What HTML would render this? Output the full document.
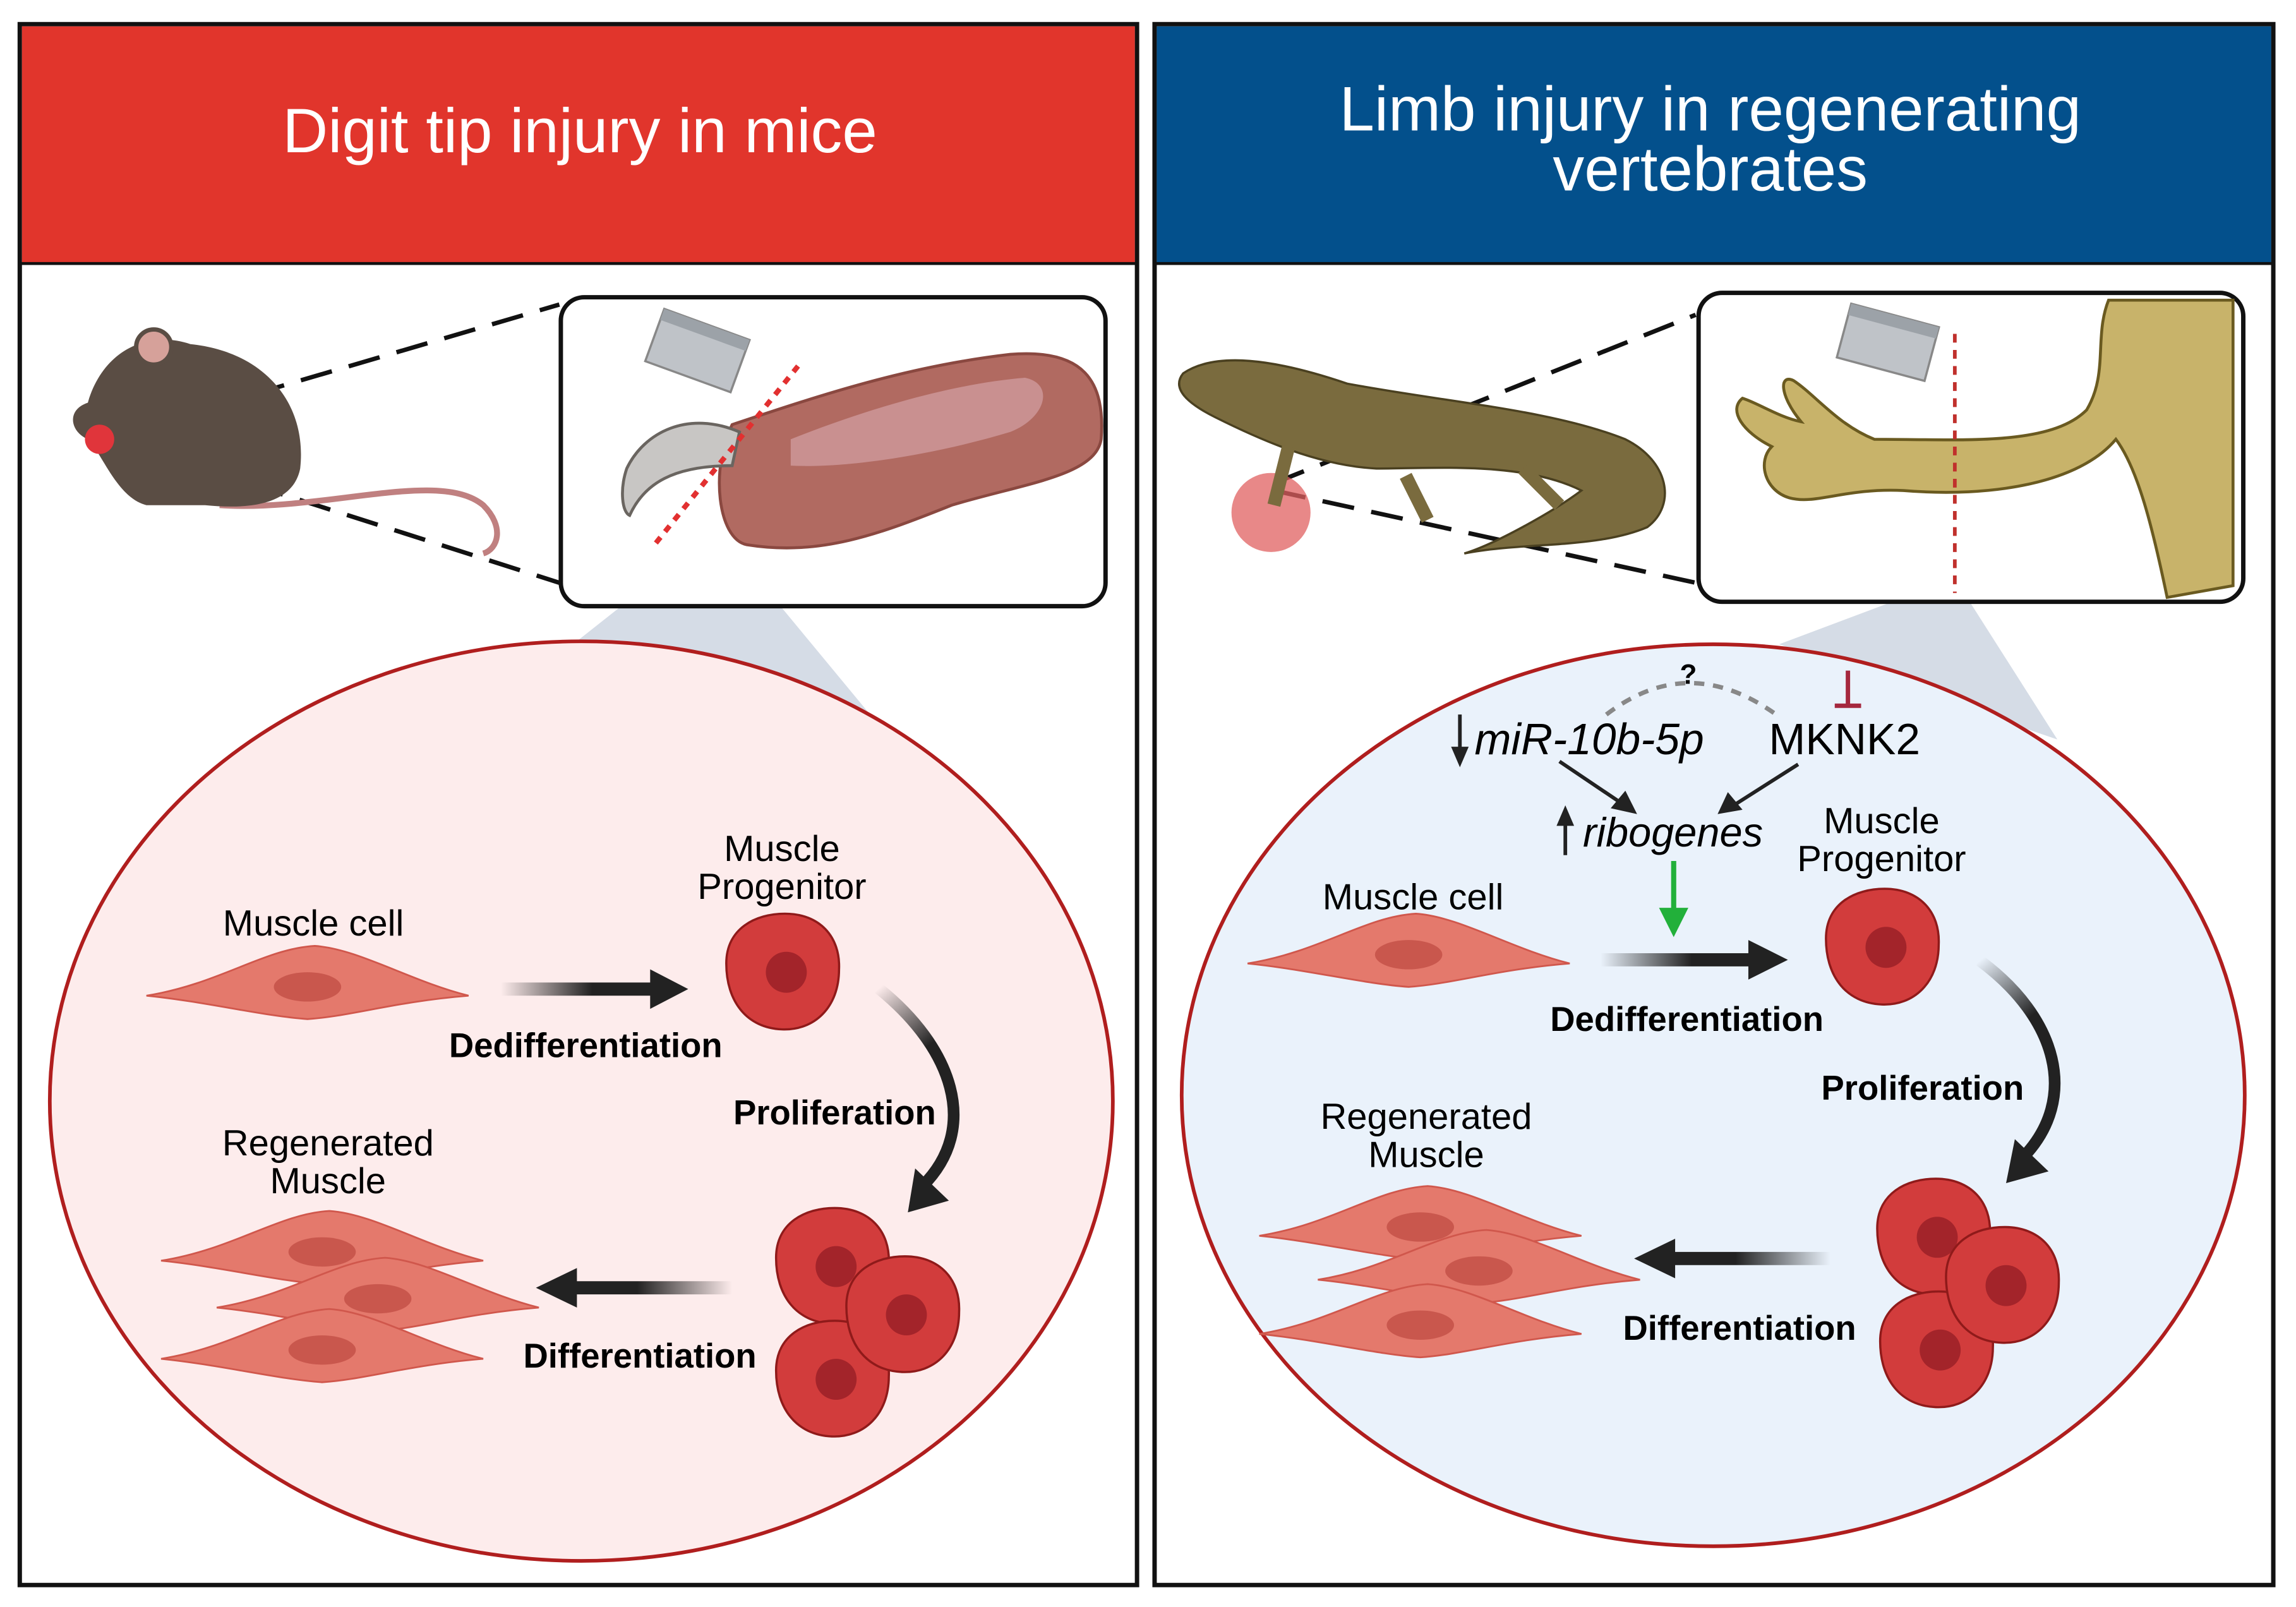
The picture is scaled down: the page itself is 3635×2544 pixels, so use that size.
<!DOCTYPE html>
<html><head><meta charset="utf-8"><style>
html,body{margin:0;padding:0;background:#fff}
svg{display:block}
text{font-family:"Liberation Sans",Arial,sans-serif}
</style></head><body>
<svg width="3635" height="2544" viewBox="0 0 1568 1097.5" preserveAspectRatio="none" xmlns="http://www.w3.org/2000/svg">
<defs>
<linearGradient id="gR" x1="0" x2="1"><stop offset="0" stop-color="#222" stop-opacity="0"/><stop offset="0.6" stop-color="#222"/></linearGradient>
<linearGradient id="gL" x1="1" x2="0"><stop offset="0" stop-color="#222" stop-opacity="0"/><stop offset="0.6" stop-color="#222"/></linearGradient>
<linearGradient id="gC" x1="0" y1="0" x2="0.3" y2="1"><stop offset="0" stop-color="#222" stop-opacity="0"/><stop offset="0.45" stop-color="#222"/></linearGradient>
<g id="sp"><path d="M-110,8 C-60,0 -30,-24 5,-26 C35,-24 70,-2 110,8 C60,12 30,22 0,24 C-30,22 -70,12 -110,8Z" fill="#e4796c" stroke="#d0574c" stroke-width="1.2"/><ellipse cx="0" cy="2" rx="23" ry="10" fill="#c9574d"/></g>
<g id="pc"><path d="M-38,-6 C-38,-30 -18,-40 2,-40 C26,-40 40,-24 39,-2 C39,24 22,40 0,39 C-24,38 -38,20 -38,-6Z" fill="#d23c3c" stroke="#8f1a1a" stroke-width="1.5"/><circle cx="3" cy="0" r="14" fill="#a3242a"/></g>
</defs>
<rect width="1568" height="1098" fill="#fff"/>
<rect x="13.5" y="16.5" width="763" height="1066" fill="#fff" stroke="#111" stroke-width="3"/>
<rect x="15" y="18" width="760" height="162" fill="#e1352c"/>
<line x1="14" y1="180" x2="776" y2="180" stroke="#111" stroke-width="2"/>
<text x="396" y="104" font-size="43" fill="#fff" text-anchor="middle">Digit tip injury in mice</text>
<rect x="788.5" y="16.5" width="764" height="1066" fill="#fff" stroke="#111" stroke-width="3"/>
<rect x="790" y="18" width="761" height="162" fill="#03508c"/>
<line x1="789" y1="180" x2="1552" y2="180" stroke="#111" stroke-width="2"/>
<text x="1168" y="89" font-size="43" fill="#fff" text-anchor="middle">Limb injury in regenerating</text>
<text x="1168" y="130" font-size="43" fill="#fff" text-anchor="middle">vertebrates</text>

<polygon points="490,362 385,445 600,495" fill="#d5dce6"/>
<ellipse cx="397" cy="752" rx="363" ry="314" fill="#fdecec" stroke="#b01e1e" stroke-width="2.5"/>
<line x1="75" y1="298" x2="382" y2="208" stroke="#111" stroke-width="3" stroke-dasharray="22,12"/>
<line x1="75" y1="300" x2="382" y2="398" stroke="#111" stroke-width="3" stroke-dasharray="22,12"/>
<path d="M150,345 C220,350 300,320 330,345 C345,360 340,375 330,378" fill="none" stroke="#c08080" stroke-width="4"/>
<path d="M60,275 C70,240 100,225 130,235 C180,240 210,275 205,320 C200,345 170,348 140,345 L100,345 C80,340 70,310 60,300 C48,295 45,280 60,275Z" fill="#5a4d44"/>
<circle cx="105" cy="237" r="12" fill="#d6a19a" stroke="#5a4d44" stroke-width="3"/>
<circle cx="68" cy="300" r="10" fill="#e0353b"/>
<rect x="383" y="203" width="372" height="211" rx="16" fill="#fff" stroke="#111" stroke-width="3"/>
<path d="M500,290 C560,270 620,250 690,242 C740,238 755,260 752,300 C748,325 700,330 650,345 C600,365 560,380 510,372 C490,368 485,320 500,290Z" fill="#b16a61" stroke="#8a4840" stroke-width="2"/>
<path d="M540,300 C590,280 650,262 700,258 C720,262 715,285 690,295 C640,310 580,320 540,318Z" fill="#c99090"/>
<path d="M505,295 C470,280 440,295 428,320 C423,335 425,350 430,352 C440,330 460,318 500,318Z" fill="#c8c6c4" stroke="#6a6560" stroke-width="2"/>
<line x1="545" y1="250" x2="447" y2="372" stroke="#e23030" stroke-width="3.5" stroke-dasharray="5,5"/>
<g transform="rotate(20 475 240)"><rect x="445" y="220" width="62" height="38" fill="#bfc3c8" stroke="#888" stroke-width="1.5"/><rect x="445" y="220" width="62" height="8" fill="#9ca2a8"/></g>

<text x="214" y="639" font-size="25" text-anchor="middle">Muscle cell</text>
<use href="#sp" x="210" y="672"/>
<rect x="342" y="671" width="104" height="9" fill="url(#gR)"/>
<polygon points="444,662 470,675.5 444,689" fill="#222"/>
<text x="400" y="722" font-size="23.5" font-weight="bold" text-anchor="middle">Dedifferentiation</text>
<text x="534" y="588" font-size="25" text-anchor="middle">Muscle</text>
<text x="534" y="614" font-size="25" text-anchor="middle">Progenitor</text>
<use href="#pc" x="534" y="664"/>
<path d="M600,675 C650,715 670,770 630,810" fill="none" stroke="url(#gC)" stroke-width="8"/>
<polygon points="620,828 648,820 625,798" fill="#222"/>
<text x="570" y="768" font-size="23.5" font-weight="bold" text-anchor="middle">Proliferation</text>
<use href="#pc" x="568" y="865"/>
<use href="#pc" x="568" y="942"/>
<use href="#pc" x="616" y="898"/>
<rect x="392" y="875" width="108" height="9" fill="url(#gL)"/>
<polygon points="394,866 366,879.5 394,893" fill="#222"/>
<text x="437" y="934" font-size="23.5" font-weight="bold" text-anchor="middle">Differentiation</text>
<text x="224" y="789" font-size="25" text-anchor="middle">Regenerated</text>
<text x="224" y="815" font-size="25" text-anchor="middle">Muscle</text>
<use href="#sp" x="220" y="853"/>
<use href="#sp" x="258" y="885"/>
<use href="#sp" x="220" y="920"/>

<polygon points="1335,395 1215,440 1405,505" fill="#d5dce6"/>
<ellipse cx="1170" cy="748" rx="363" ry="308" fill="#eaf2fb" stroke="#b01e1e" stroke-width="2.5"/>
<line x1="870" y1="330" x2="1158" y2="215" stroke="#111" stroke-width="3" stroke-dasharray="22,12"/>
<line x1="870" y1="335" x2="1158" y2="398" stroke="#111" stroke-width="3" stroke-dasharray="22,12"/>
<circle cx="868" cy="350" r="27" fill="#e06060" opacity="0.75"/>
<path d="M808,255 C830,240 870,245 920,262 C990,275 1060,280 1110,300 C1140,315 1145,345 1125,360 C1090,375 1040,370 1000,378 C1020,372 1060,350 1080,335 C1040,315 980,320 940,320 C900,318 860,300 830,285 C810,275 800,265 808,255Z" fill="#7a6b3e" stroke="#4a4020" stroke-width="1.5"/>
<path d="M880,305 L870,345 M960,325 L975,355 M1040,320 L1065,345" stroke="#7a6b3e" stroke-width="9" fill="none"/>
<rect x="1160" y="200" width="372" height="211" rx="16" fill="#fff" stroke="#111" stroke-width="3"/>
<path d="M1440,205 L1525,205 L1525,400 L1480,408 C1470,360 1460,320 1445,300 C1420,330 1360,340 1300,335 C1260,333 1240,345 1222,340 C1205,335 1200,315 1210,305 C1190,295 1180,280 1190,272 C1200,275 1215,285 1230,288 C1215,270 1215,255 1225,260 C1240,270 1255,290 1280,300 C1340,300 1400,305 1425,280 C1440,255 1430,230 1440,205Z" fill="#c8b36a" stroke="#6a5a20" stroke-width="2"/>
<line x1="1335" y1="228" x2="1335" y2="405" stroke="#c0302c" stroke-width="2.5" stroke-dasharray="6,5"/>
<g transform="rotate(15 1290 235)"><rect x="1258" y="215" width="62" height="38" fill="#bfc3c8" stroke="#888" stroke-width="1.5"/><rect x="1258" y="215" width="62" height="8" fill="#9ca2a8"/></g>

<path d="M1097,488 Q1153,445 1213,488" fill="none" stroke="#888" stroke-width="3" stroke-dasharray="7,6"/>
<text x="1153" y="467" font-size="19" font-weight="bold" text-anchor="middle">?</text>
<line x1="1262" y1="458" x2="1262" y2="482" stroke="#a5283e" stroke-width="3"/>
<line x1="1253" y1="482" x2="1271" y2="482" stroke="#a5283e" stroke-width="3"/>
<line x1="997" y1="488" x2="997" y2="512" stroke="#222" stroke-width="2.5"/>
<polygon points="991,510 1003,510 997,524" fill="#222"/>
<text x="1007" y="515" font-size="30" font-style="italic">miR-10b-5p</text>
<text x="1208" y="515" font-size="30">MKNK2</text>
<line x1="1065" y1="520" x2="1108" y2="549" stroke="#222" stroke-width="2.5"/>
<polygon points="1118,556 1100,552 1110,540" fill="#222"/>
<line x1="1228" y1="522" x2="1184" y2="550" stroke="#222" stroke-width="2.5"/>
<polygon points="1173,556 1180,541 1190,553" fill="#222"/>
<line x1="1069" y1="584" x2="1069" y2="562" stroke="#222" stroke-width="2.5"/>
<polygon points="1063,564 1075,564 1069,550" fill="#222"/>
<text x="1081" y="578" font-size="28" font-style="italic">ribogenes</text>
<line x1="1143" y1="588" x2="1143" y2="622" stroke="#22b03a" stroke-width="3.5"/>
<polygon points="1133,620 1153,620 1143,640" fill="#22b03a"/>
<text x="965" y="621" font-size="25" text-anchor="middle">Muscle cell</text>
<use href="#sp" x="962" y="650"/>
<rect x="1093" y="651" width="104" height="9" fill="url(#gR)"/>
<polygon points="1194,642 1221,655.5 1194,669" fill="#222"/>
<text x="1152" y="704" font-size="23.5" font-weight="bold" text-anchor="middle">Dedifferentiation</text>
<text x="1285" y="569" font-size="25" text-anchor="middle">Muscle</text>
<text x="1285" y="595" font-size="25" text-anchor="middle">Progenitor</text>
<use href="#pc" x="1285" y="647"/>
<path d="M1352,656 C1405,695 1420,750 1382,790" fill="none" stroke="url(#gC)" stroke-width="8"/>
<polygon points="1370,808 1399,800 1376,778" fill="#222"/>
<text x="1313" y="751" font-size="23.5" font-weight="bold" text-anchor="middle">Proliferation</text>
<use href="#pc" x="1320" y="845"/>
<use href="#pc" x="1322" y="922"/>
<use href="#pc" x="1367" y="878"/>
<rect x="1142" y="855" width="108" height="9" fill="url(#gL)"/>
<polygon points="1144,846 1116,859.5 1144,873" fill="#222"/>
<text x="1188" y="915" font-size="23.5" font-weight="bold" text-anchor="middle">Differentiation</text>
<text x="974" y="771" font-size="25" text-anchor="middle">Regenerated</text>
<text x="974" y="797" font-size="25" text-anchor="middle">Muscle</text>
<use href="#sp" x="970" y="836"/>
<use href="#sp" x="1010" y="866"/>
<use href="#sp" x="970" y="903"/>
</svg>
</body></html>
